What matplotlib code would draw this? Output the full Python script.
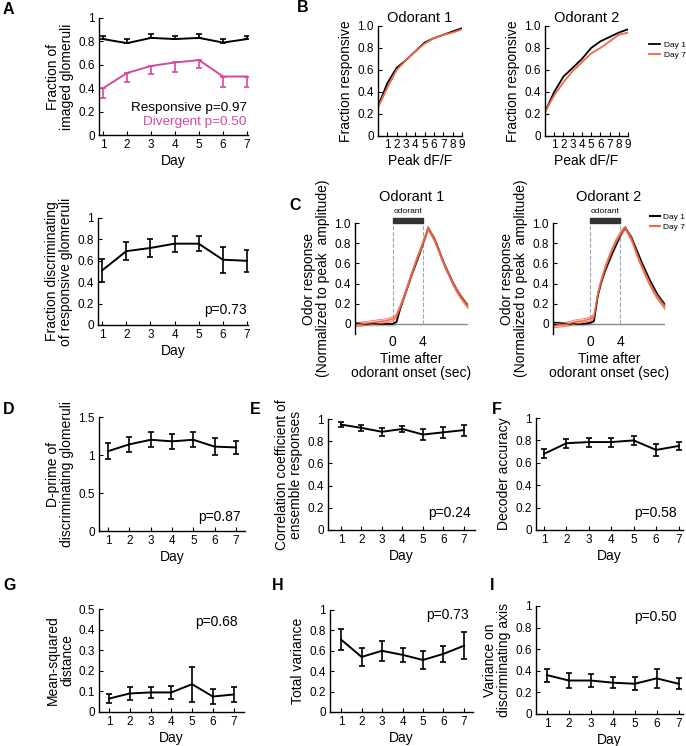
import numpy as np
import matplotlib
matplotlib.use('Agg')
import matplotlib.pyplot as plt
from matplotlib.lines import Line2D

plt.rcParams['font.family'] = ['Liberation Sans', 'DejaVu Sans']
plt.rcParams['axes.linewidth'] = 1.0

# ---- data ----
days = [1, 2, 3, 4, 5, 6, 7]

resp = [0.82, 0.785, 0.83, 0.82, 0.83, 0.79, 0.82]
resp_err = [0.025, 0.035, 0.03, 0.03, 0.03, 0.03, 0.03]
diverg = [0.40, 0.53, 0.59, 0.62, 0.64, 0.50, 0.50]
diverg_err = [0.08, 0.08, 0.07, 0.08, 0.07, 0.09, 0.09]

disc_frac = [0.51, 0.69, 0.72, 0.76, 0.76, 0.61, 0.60]
disc_frac_err = [0.11, 0.085, 0.08, 0.075, 0.07, 0.12, 0.10]

peak_dff = [0, 1, 2, 3, 4, 5, 6, 7, 8, 9]
od1_day1 = [0.27, 0.48, 0.62, 0.69, 0.77, 0.85, 0.89, 0.92, 0.95, 0.98]
od1_day7 = [0.26, 0.44, 0.60, 0.69, 0.77, 0.84, 0.89, 0.92, 0.94, 0.97]
od2_day1 = [0.22, 0.40, 0.54, 0.62, 0.70, 0.80, 0.86, 0.90, 0.94, 0.97]
od2_day7 = [0.22, 0.37, 0.49, 0.59, 0.67, 0.75, 0.80, 0.86, 0.92, 0.94]

t = [-5, -4, -3, -2, -1, 0, 0.5, 1, 1.5, 2, 2.5, 3, 3.5, 4, 4.5, 4.7,
     5.5, 6, 6.5, 7, 7.5, 8, 8.5, 9, 9.5, 10]
tr1_day1 = [0.01, 0.0, 0.0, 0.0, 0.0, 0.0, 0.02, 0.15, 0.26, 0.37, 0.48, 0.58, 0.68, 0.79, 0.90, 0.95,
            0.85, 0.76, 0.66, 0.57, 0.49, 0.41, 0.34, 0.28, 0.23, 0.18]
tr1_day7 = [-0.01, 0.0, 0.01, 0.02, 0.03, 0.05, 0.08, 0.17, 0.27, 0.38, 0.49, 0.60, 0.70, 0.80, 0.90, 0.95,
            0.84, 0.75, 0.65, 0.56, 0.48, 0.40, 0.33, 0.27, 0.22, 0.17]
tr2_day1 = [0.01, 0.01, 0.0, 0.0, 0.0, 0.01, 0.03, 0.28, 0.42, 0.53, 0.62, 0.71, 0.79, 0.87, 0.94, 0.95,
            0.86, 0.77, 0.68, 0.59, 0.51, 0.43, 0.36, 0.29, 0.24, 0.19]
tr2_day7 = [-0.02, -0.01, 0.0, 0.02, 0.03, 0.05, 0.08, 0.30, 0.44, 0.56, 0.66, 0.75, 0.83, 0.89, 0.94, 0.95,
            0.84, 0.74, 0.64, 0.55, 0.47, 0.39, 0.32, 0.26, 0.21, 0.16]
tr_sem = 0.02

dprime = [1.05, 1.14, 1.20, 1.18, 1.20, 1.11, 1.10]
dprime_err = [0.105, 0.10, 0.10, 0.10, 0.10, 0.11, 0.09]
corr = [0.95, 0.92, 0.885, 0.91, 0.86, 0.88, 0.90]
corr_err = [0.02, 0.025, 0.035, 0.03, 0.05, 0.05, 0.05]
decoder = [0.68, 0.775, 0.785, 0.785, 0.80, 0.715, 0.75]
decoder_err = [0.04, 0.04, 0.04, 0.04, 0.04, 0.05, 0.04]
msd = [0.065, 0.09, 0.095, 0.095, 0.135, 0.075, 0.085]
msd_err = [0.02, 0.03, 0.028, 0.03, 0.085, 0.038, 0.037]
totvar = [0.71, 0.54, 0.60, 0.56, 0.51, 0.57, 0.65]
totvar_err = [0.10, 0.09, 0.10, 0.07, 0.09, 0.08, 0.13]
axvar = [0.36, 0.31, 0.31, 0.29, 0.28, 0.33, 0.28]
axvar_err = [0.06, 0.07, 0.06, 0.05, 0.06, 0.09, 0.05]

MAG = '#d6479e'
RED = '#f06848'
W, H = 686, 746
fig = plt.figure(figsize=(W / 100, H / 100), dpi=100)

TICK = 8.5
LAB = 10


def add_ax(l, t_, r, b):
    ax = fig.add_axes([l / W, 1 - b / H, (r - l) / W, (b - t_) / H])
    ax.spines['top'].set_visible(False)
    ax.spines['right'].set_visible(False)
    ax.tick_params(direction='in', length=3, width=0.8, labelsize=TICK, pad=3)
    return ax


def letter(x, y, s):
    fig.text(x / W, 1 - y / H, s, fontsize=11.5, fontweight='bold', va='center', ha='left')


def day_panel(ax, vals, errs, ylim, yticks, ylabels, xlim, ylabel, ptxt, pxy):
    ax.errorbar(days, vals, yerr=errs, color='k', lw=1.4, elinewidth=1.2,
                capsize=2.5, capthick=1.2)
    ax.set_ylim(ylim)
    ax.set_xlim(xlim)
    ax.set_yticks(yticks)
    ax.set_yticklabels(ylabels)
    ax.set_xticks(days)
    ax.set_xlabel('Day', fontsize=LAB, labelpad=2)
    ax.set_ylabel(ylabel, fontsize=LAB, linespacing=1.0, labelpad=3)
    ax.text(pxy[0], pxy[1], ptxt, transform=ax.transAxes, fontsize=10, ha='right', va='center')


# ---- A top ----
ax = add_ax(99, 18, 248, 135)
ax.errorbar(days, resp, yerr=[[0] * 7, resp_err], color='k', lw=1.4, elinewidth=1.2,
            capsize=2, capthick=1.2)
ax.errorbar(days, diverg, yerr=[diverg_err, [0] * 7], color=MAG, lw=1.4, elinewidth=1.2,
            capsize=2, capthick=1.2)
ax.set_ylim(0, 1)
ax.set_xlim(0.83, 7.04)
ax.set_yticks([0, 0.2, 0.4, 0.6, 0.8, 1])
ax.set_yticklabels(['0', '0.2', '0.4', '0.6', '0.8', '1'])
ax.set_xticks(days)
ax.set_xlabel('Day', fontsize=LAB, labelpad=2)
ax.set_ylabel('Fraction of\nimaged glomeruli', fontsize=LAB, linespacing=1.0, labelpad=3)
ax.text(0.99, 0.235, 'Responsive p=0.97', transform=ax.transAxes, fontsize=9.7, ha='right', va='center')
ax.text(0.99, 0.11, 'Divergent p=0.50', transform=ax.transAxes, fontsize=9.7, ha='right',
        va='center', color=MAG)
letter(3, 10, 'A')

# ---- A bottom ----
ax = add_ax(98, 218, 248, 325)
day_panel(ax, disc_frac, disc_frac_err, (0, 1), [0, 0.2, 0.4, 0.6, 0.8, 1],
          ['0', '0.2', '0.4', '0.6', '0.8', '1'], (0.83, 7.04),
          'Fraction discriminating\nof responsive glomreruli', 'p=0.73', (0.99, 0.14))

# ---- B ----
for (l, r, d1, d7, title) in [(378, 462, od1_day1, od1_day7, 'Odorant 1'),
                              (545, 628, od2_day1, od2_day7, 'Odorant 2')]:
    ax = add_ax(l, 26, r, 136)
    ax.plot(peak_dff, d1, color='k', lw=1.3, label='Day 1')
    ax.plot(peak_dff, d7, color=RED, lw=1.3, label='Day 7')
    ax.set_xlim(0, 9)
    ax.set_ylim(0, 1)
    ax.set_xticks(peak_dff[1:])
    ax.set_yticks([0, 0.2, 0.4, 0.6, 0.8, 1.0])
    ax.set_yticklabels(['0', '0.2', '0.4', '0.6', '0.8', '1.0'])
    ax.tick_params(axis='x', pad=2)
    ax.set_xlabel('Peak dF/F', fontsize=LAB, labelpad=2)
    ax.set_ylabel('Fraction responsive', fontsize=LAB, labelpad=3)
    ax.set_title(title, fontsize=10.5, pad=3)
ax.legend(loc='upper left', bbox_to_anchor=(1.2, 0.9), frameon=False, fontsize=6,
          handlelength=1.4, handletextpad=0.4, labelspacing=0.3, borderpad=0)
letter(297, 8, 'B')

# ---- C ----
for (l, r, d1, d7, title) in [(355, 468, tr1_day1, tr1_day7, 'Odorant 1'),
                              (553, 665, tr2_day1, tr2_day7, 'Odorant 2')]:
    ax = add_ax(l, 223, r, 334)
    d1 = np.array(d1)
    d7 = np.array(d7)
    ax.axhline(0, color='#888888', lw=1.0, zorder=0)
    ax.plot([0, 0], [0, 1.0], color='#9aa6c8', lw=0.8, ls='--', zorder=0)
    ax.plot([4, 4], [0, 1.0], color='#9aa6c8', lw=0.8, ls='--', zorder=0)
    ax.fill_between(t, d1 - tr_sem, d1 + tr_sem, color='#777777', alpha=0.4, lw=0)
    ax.plot(t, d1, color='k', lw=1.2)
    ax.fill_between(t, d7 - tr_sem, d7 + tr_sem, color=RED, alpha=0.35, lw=0)
    ax.plot(t, d7 - tr_sem, color=RED, lw=0.5)
    ax.plot(t, d7 + tr_sem, color=RED, lw=0.5)
    ax.plot(t, d7, color=RED, lw=1.0)
    ax.fill_between([0, 4], [1.0, 1.0], [1.05, 1.05], color='#333333', clip_on=False)
    ax.text(2, 1.115, 'odorant', fontsize=6, ha='center', va='center')
    ax.set_xlim(-5, 10)
    ax.set_ylim(-0.1, 1.0)
    ax.spines['bottom'].set_visible(False)
    ax.set_xticks([0, 4])
    ax.tick_params(axis='x', length=0, pad=1, labelsize=10)
    ax.set_yticks([0, 0.2, 0.4, 0.6, 0.8, 1.0])
    ax.set_yticklabels(['0', '0.2', '0.4', '0.6', '0.8', '1.0'])
    ax.set_xlabel('Time after\nodorant onset (sec)', fontsize=LAB, labelpad=2, linespacing=1.0)
    ax.set_ylabel('Odor response\n(Normalized to peak  amplitude)', fontsize=LAB,
                  linespacing=1.0, labelpad=3)
    ax.set_title(title, fontsize=10.5, pad=16)
handles = [Line2D([], [], color='k', lw=1.5), Line2D([], [], color=RED, lw=1.5)]
ax.legend(handles, ['Day 1', 'Day 7'], loc='upper left', bbox_to_anchor=(0.83, 1.13),
          frameon=False, fontsize=6, handlelength=1.2, handletextpad=0.3,
          labelspacing=0.3, borderpad=0)
letter(289, 205, 'C')

# ---- D, E, F ----
ax = add_ax(99, 417, 245, 531)
day_panel(ax, dprime, dprime_err, (0, 1.5), [0, 0.5, 1, 1.5], ['0', '0.5', '1', '1.5'],
          (0.58, 7.42), 'D-prime of\ndiscriminating glomeruli', 'p=0.87', (0.97, 0.12))
letter(3, 410, 'D')

ax = add_ax(328, 419, 475, 530)
day_panel(ax, corr, corr_err, (0, 1), [0, 0.2, 0.4, 0.6, 0.8, 1],
          ['0', '0.2', '0.4', '0.6', '0.8', '1'], (0.37, 7.54),
          'Correlation coefficient of\nensemble responses', 'p=0.24', (0.97, 0.15))
letter(250, 409, 'E')

ax = add_ax(536, 418, 683, 530)
day_panel(ax, decoder, decoder_err, (0, 1), [0, 0.2, 0.4, 0.6, 0.8, 1],
          ['0', '0.2', '0.4', '0.6', '0.8', '1'], (0.64, 7.2),
          'Decoder accuracy', 'p=0.58', (0.96, 0.15))
letter(492, 410, 'F')

# ---- G, H, I ----
ax = add_ax(99, 609, 244, 712)
day_panel(ax, msd, msd_err, (0, 0.5), [0, 0.1, 0.2, 0.3, 0.4, 0.5],
          ['0', '0.1', '0.2', '0.3', '0.4', '0.5'], (0.52, 7.5),
          'Mean-squared\ndistance', 'p=0.68', (0.96, 0.87))
letter(3, 585, 'G')

ax = add_ax(330, 610, 473, 712)
day_panel(ax, totvar, totvar_err, (0, 1), [0, 0.2, 0.4, 0.6, 0.8, 1],
          ['0', '0.2', '0.4', '0.6', '0.8', '1'], (0.46, 7.44),
          'Total variance', 'p=0.73', (0.97, 0.95))
letter(272, 585, 'H')

ax = add_ax(536, 606, 683, 714)
day_panel(ax, axvar, axvar_err, (0, 1), [0, 0.2, 0.4, 0.6, 0.8, 1],
          ['0', '0.2', '0.4', '0.6', '0.8', '1'], (0.5, 7.2),
          'Variance on\ndiscriminating axis', 'p=0.50', (0.96, 0.9))
letter(490, 585, 'I')

fig.savefig('out.png', dpi=100)
